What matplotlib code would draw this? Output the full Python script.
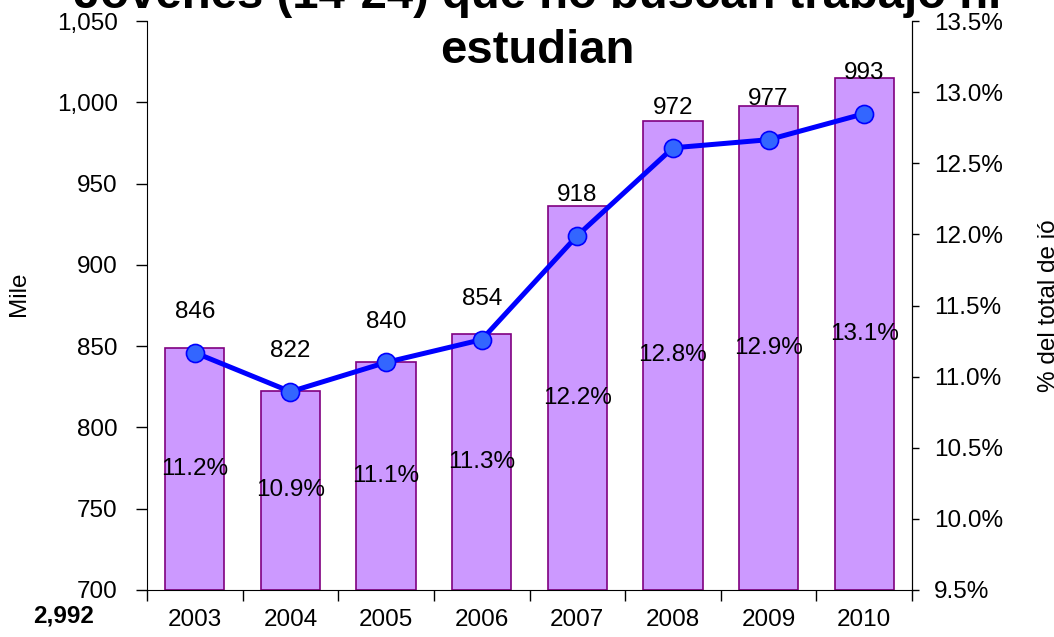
import numpy as np
import matplotlib
matplotlib.use('Agg')
import matplotlib.pyplot as plt
from matplotlib.ticker import FuncFormatter, FixedLocator

plt.rcParams['font.family'] = ['Liberation Sans', 'DejaVu Sans']

years = ['2003', '2004', '2005', '2006', '2007', '2008', '2009', '2010']
miles = [846, 822, 840, 854, 918, 972, 977, 993]
pct = [11.2, 10.9, 11.1, 11.3, 12.2, 12.8, 12.9, 13.1]
total_label = '2,992'

x = np.arange(len(years))

fig = plt.figure(figsize=(10.54, 6.37), dpi=100)
ax = fig.add_axes([0.1395, 0.0738, 0.7258, 0.8932])
ax2 = ax.twinx()

# bars on the right axis (% del total)
ax2.bar(x, [p - 9.5 for p in pct], bottom=9.5, width=0.62, color='#CC99FF',
        edgecolor='#800080', linewidth=1.2)
for xi, p in zip(x, pct):
    ax2.text(xi, (9.5 + p) / 2, '%.1f%%' % p, ha='center', va='center', fontsize=17.5)

# line on the left axis (miles), drawn above the bars
ax.set_zorder(ax2.get_zorder() + 1)
ax.patch.set_visible(False)
ax.plot(x, miles, color='#0000FF', linewidth=3.6, marker='o', markersize=13,
        markerfacecolor='#3366FF', markeredgecolor='#0000FF', markeredgewidth=1.2)
for xi, m in zip(x, miles):
    ax.annotate('%d' % m, (xi, m), xytext=(0, 29), textcoords='offset points',
                ha='center', va='center', fontsize=17.5)

ax.set_xlim(-0.5, len(years) - 0.5)
ax.set_ylim(700, 1050)
ax.set_yticks(np.arange(700, 1051, 50))
ax.yaxis.set_major_formatter(FuncFormatter(lambda v, p: '{:,.0f}'.format(v)))
ax2.set_ylim(9.5, 13.5)
ax2.set_yticks(np.arange(9.5, 13.51, 0.5))
ax2.yaxis.set_major_formatter(FuncFormatter(lambda v, p: '%.1f%%' % v))

ax.set_xticks(x)
ax.set_xticklabels(years)
ax.xaxis.set_minor_locator(FixedLocator(np.arange(-0.5, len(years), 1.0)))
ax.tick_params(axis='x', which='major', length=0, pad=14, labelsize=17.5)
ax.tick_params(axis='x', which='minor', length=8, width=1, direction='out')
ax.tick_params(axis='y', length=8, width=1, pad=13, labelsize=17.5, direction='out')
ax2.tick_params(axis='y', length=5, width=1, pad=11, labelsize=17.5, direction='out')

for a in (ax, ax2):
    a.spines['top'].set_visible(False)
ax2.spines['left'].set_visible(False)
ax2.spines['bottom'].set_visible(False)

ax.set_ylabel('Mile', fontsize=17.5)
ax.yaxis.set_label_coords(-0.153, 0.52)
ax2.set_ylabel('% del total de jó', fontsize=17.5, rotation=90)
ax2.yaxis.set_label_coords(1.165, 0.5)

fig.text(0.51, 1 - 63 / 637, 'Jóvenes (14-24) que no buscan trabajo ni\nestudian',
         ha='center', va='baseline', fontsize=34, fontweight='bold', linespacing=1.32)
fig.text(64 / 1054, 1 - 616 / 637, total_label, ha='center', va='center',
         fontsize=17.5, fontweight='bold')

fig.savefig('out.png', dpi=100)
